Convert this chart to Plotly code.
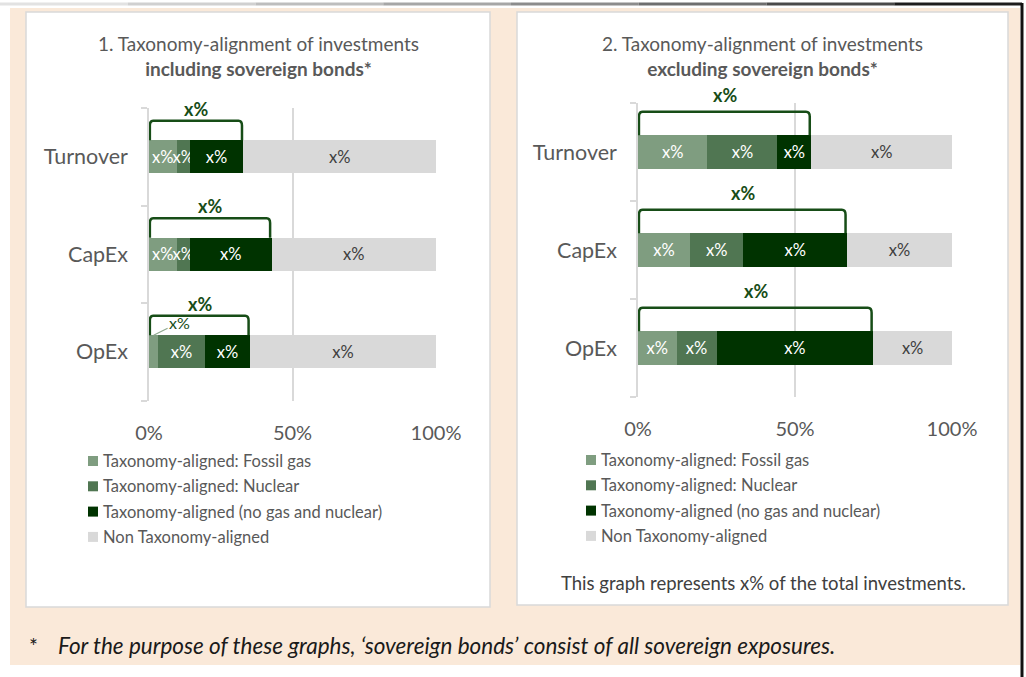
import plotly.graph_objects as go

# ---------------- data ----------------
categories = ["Turnover", "CapEx", "OpEx"]
series_names = [
    "Taxonomy-aligned: Fossil gas",
    "Taxonomy-aligned: Nuclear",
    "Taxonomy-aligned (no gas and nuclear)",
    "Non Taxonomy-aligned",
]
series_colors = ["#7F9D80", "#507652", "#003300", "#D9D9D9"]
label_colors = ["#FFFFFF", "#FFFFFF", "#FFFFFF", "#404040"]

# Chart 1: including sovereign bonds (% of investments)
incl_fossil = [9.6, 9.6, 3.2]
incl_nuclear = [4.6, 4.6, 16.3]
incl_aligned = [18.7, 28.5, 15.7]
incl_non = [67.1, 57.3, 64.8]

# Chart 2: excluding sovereign bonds (% of investments)
excl_fossil = [22.1, 16.6, 12.3]
excl_nuclear = [22.3, 16.9, 12.7]
excl_aligned = [10.8, 33.1, 49.9]
excl_non = [44.8, 33.4, 25.1]

bar_label = "x%"
total_label = "x%"
title1 = "1. Taxonomy-alignment of investments<br><b>including sovereign bonds*</b>"
title2 = "2. Taxonomy-alignment of investments<br><b>excluding sovereign bonds*</b>"
footer2 = "This graph represents x% of the total investments."
footnote = "For the purpose of these graphs, \u2018sovereign bonds\u2019 consist of all sovereign exposures."

# ---------------- layout helpers ----------------
W, H = 1026, 677
FONT = "Lato, Carlito, Calibri, sans-serif"
GRAY_TXT = "#595959"
BRACKET = "#174D17"


def px(x):
    return x / W


def py(y):
    return 1 - y / H


fig = go.Figure()

panels = [
    dict(series=[incl_fossil, incl_nuclear, incl_aligned, incl_non], xa="x", ya="y",
         xdom=[px(149), px(436)], ydom=[py(400.5), py(108)],
         rise=0.2, lab=0.12, title=title1, tx=258, legx=88, legy=461),
    dict(series=[excl_fossil, excl_nuclear, excl_aligned, excl_non], xa="x2", ya="y2",
         xdom=[px(638), px(952)], ydom=[py(397), py(103)],
         rise=0.24, lab=0.17, title=title2, tx=762, legx=586, legy=460),
]

BAR_W = 0.34
ypos = list(range(len(categories)))
YR = [2.5, -0.5]

shapes = []
annotations = []

# background decorations
shapes.append(dict(type="rect", xref="paper", yref="paper", x0=px(10), x1=px(1020), y0=py(665), y1=py(8),
                   fillcolor="#FAE9D9", line=dict(width=0), layer="below"))
shapes.append(dict(type="rect", xref="paper", yref="paper", x0=px(26), x1=px(490), y0=py(607), y1=py(12),
                   fillcolor="#FFFFFF", line=dict(color="#D9D9D9", width=1.5), layer="below"))
shapes.append(dict(type="rect", xref="paper", yref="paper", x0=px(517), x1=px(1008), y0=py(605), y1=py(12),
                   fillcolor="#FFFFFF", line=dict(color="#D9D9D9", width=1.5), layer="below"))
grad = ["#E2E2E2", "#D0D0D0", "#BDBDBD", "#A6A6A6", "#8C8C8C", "#6E6E6E", "#4A4A4A", "#1E1E1E"]
seg = 1022 / len(grad)
for i, c in enumerate(grad):
    shapes.append(dict(type="line", xref="paper", yref="paper", x0=px(i * seg), x1=px((i + 1) * seg),
                       y0=py(4), y1=py(4), line=dict(color=c, width=3)))
shapes.append(dict(type="line", xref="paper", yref="paper", x0=px(1022), x1=px(1022), y0=py(3), y1=py(677),
                   line=dict(color="#111111", width=3)))


def y_to_paper(p, yv):
    lo, hi = p["ydom"]
    return hi - (yv - YR[1]) / (YR[0] - YR[1]) * (hi - lo)


for p in panels:
    for name, vals, col, lc in zip(series_names, p["series"], series_colors, label_colors):
        fig.add_trace(go.Bar(
            orientation="h", x=vals, y=ypos, name=name, width=BAR_W,
            marker=dict(color=col, line=dict(width=0)),
            text=[bar_label if v >= 4 else "" for v in vals],
            textposition="inside", insidetextanchor="middle", textangle=0,
            textfont=dict(family=FONT, size=16.5, color=lc),
            showlegend=False, hoverinfo="skip",
            xaxis=p["xa"], yaxis=p["ya"],
        ))
    # brackets over the aligned total
    f, n, a = p["series"][0], p["series"][1], p["series"][2]
    for i in ypos:
        tot = f[i] + n[i] + a[i]
        yb = i - BAR_W / 2
        yt = yb - p["rise"]
        r_y = 0.05
        r_x = 1.2
        x0, x1 = 0.3, tot - 0.5
        path = (f"M {x0},{yb} L {x0},{yt + r_y} Q {x0},{yt} {x0 + r_x},{yt} "
                f"L {x1 - r_x},{yt} Q {x1},{yt} {x1},{yt + r_y} L {x1},{yb}")
        shapes.append(dict(type="path", path=path, xref=p["xa"], yref=p["ya"],
                           line=dict(color=BRACKET, width=2.5)))
        annotations.append(dict(x=tot / 2, y=y_to_paper(p, yt - p["lab"]), xref=p["xa"], yref="paper",
                                text=f"<b>{total_label}</b>", showarrow=False, yanchor="middle",
                                font=dict(family=FONT, size=18, color=BRACKET)))
        # small segment label with leader line
        if f[i] < 4:
            annotations.append(dict(x=f[i] / 2, y=yb, xref=p["xa"], yref=p["ya"],
                                    text=bar_label, showarrow=True, arrowhead=0, arrowwidth=1.2,
                                    arrowcolor="#8FA98F", ax=26, ay=-13, standoff=0,
                                    font=dict(family=FONT, size=16, color=BRACKET)))
    # title
    annotations.append(dict(x=px(p["tx"]), y=py(56.5), xref="paper", yref="paper", text=p["title"],
                            showarrow=False, xanchor="center", yanchor="middle",
                            font=dict(family=FONT, size=19, color=GRAY_TXT)))
    # legend
    for k, (name, col) in enumerate(zip(series_names, series_colors)):
        yc = p["legy"] + k * 25.3
        shapes.append(dict(type="rect", xref="paper", yref="paper",
                           x0=px(p["legx"]), x1=px(p["legx"] + 10), y0=py(yc + 5), y1=py(yc - 5),
                           fillcolor=col, line=dict(width=0)))
        annotations.append(dict(x=px(p["legx"] + 13), y=py(yc), xref="paper", yref="paper", text=name,
                                showarrow=False, xanchor="left", yanchor="middle",
                                font=dict(family=FONT, size=16.5, color=GRAY_TXT)))

annotations.append(dict(x=px(763), y=py(583), xref="paper", yref="paper", text=footer2, showarrow=False,
                        xanchor="center", yanchor="middle", font=dict(family=FONT, size=18.5, color="#404040")))
annotations.append(dict(x=px(33), y=py(645), xref="paper", yref="paper", text="*", showarrow=False,
                        xanchor="center", yanchor="middle", font=dict(family=FONT, size=21, color="#1A1A1A")))
annotations.append(dict(x=px(56), y=py(645), xref="paper", yref="paper", text=f"<i>{footnote}</i>",
                        showarrow=False, xanchor="left", yanchor="middle",
                        font=dict(family=FONT, size=22.5, color="#1A1A1A")))

axis_common_x = dict(range=[0, 100], tickvals=[0, 50, 100], ticktext=["0%", "50%", "100%"],
                     showgrid=True, gridcolor="#D9D9D9", gridwidth=1.5, zeroline=False, showline=False,
                     ticks="", ticklabelstandoff=18, fixedrange=True, automargin=False,
                     tickfont=dict(family=FONT, size=20, color=GRAY_TXT))
axis_common_y = dict(range=YR, tickvals=ypos, ticktext=categories, showgrid=False,
                     zeroline=False, showline=True, linecolor="#D9D9D9", linewidth=1.5, ticks="",
                     ticklabelstandoff=15, fixedrange=True, automargin=False,
                     minor=dict(tickvals=[-0.5, 0.5, 1.5, 2.5], ticks="outside", ticklen=6,
                                tickcolor="#D9D9D9", tickwidth=1.5, showgrid=False),
                     tickfont=dict(family=FONT, size=21.5, color=GRAY_TXT))

fig.update_layout(
    width=W, height=H, margin=dict(l=0, r=0, t=0, b=0, autoexpand=False),
    paper_bgcolor="#FFFFFF", plot_bgcolor="rgba(0,0,0,0)",
    barmode="stack", showlegend=False,
    uniformtext=dict(mode="show", minsize=16.5),
    xaxis=dict(domain=panels[0]["xdom"], anchor="y", **axis_common_x),
    yaxis=dict(domain=panels[0]["ydom"], anchor="x", **axis_common_y),
    xaxis2=dict(domain=panels[1]["xdom"], anchor="y2", **axis_common_x),
    yaxis2=dict(domain=panels[1]["ydom"], anchor="x2", **axis_common_y),
    shapes=shapes, annotations=annotations,
)

fig.write_html("out.html", config={"displayModeBar": False},
               post_script="document.body.style.margin='0';")
